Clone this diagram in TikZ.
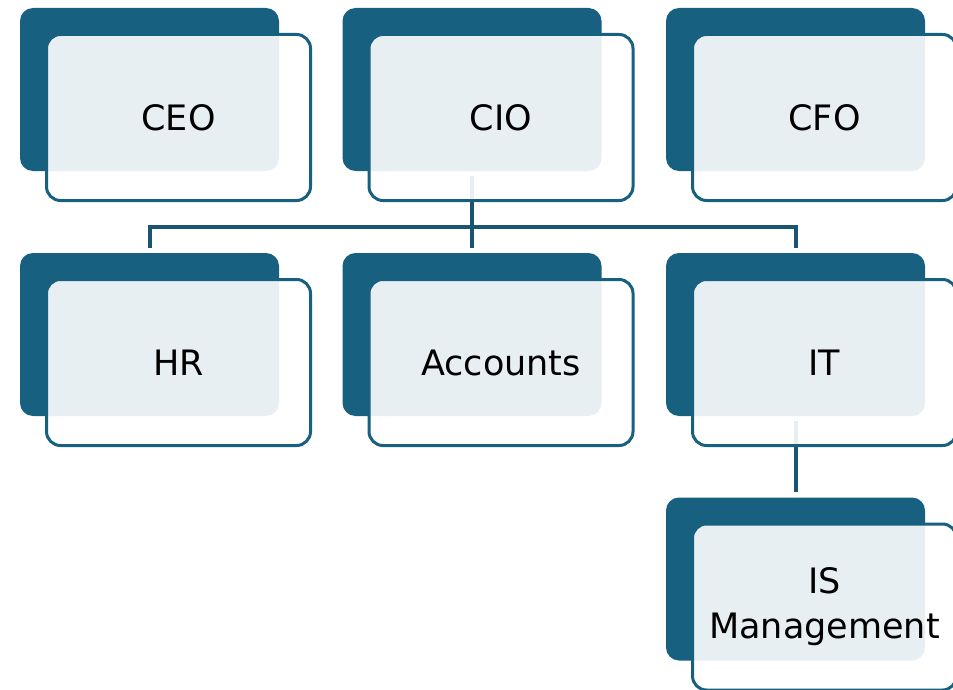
\documentclass[tikz,border=0pt]{standalone}
\usepackage{fontspec}
\setmainfont{DejaVu Sans}
\usepackage{xcolor}
\definecolor{orgblue}{HTML}{17607F}
\definecolor{linkblue}{HTML}{1A5472}

\begin{document}
\begin{tikzpicture}[x=1pt,y=-1pt,
		backbox/.style={fill=orgblue, rounded corners=13pt, minimum width=259pt, minimum height=163pt, inner sep=0pt},
		frontbox/.style={draw=orgblue, line width=3pt, fill=white, fill opacity=0.9, text opacity=1, rounded corners=14pt,
			minimum width=264pt, minimum height=166pt, inner sep=0pt, align=center, font=\fontsize{35}{45}\selectfont},
		link/.style={draw=linkblue, line width=4pt, shorten <=5pt, shorten >=5pt}]
		\useasboundingbox (0,0) rectangle (953,690);
		% dark boxes behind
		\node[backbox] (ceo-back) at (149.5,89.5) {};
		\node[backbox] (cio-back) at (472,89.5) {};
		\node[backbox] (cfo-back) at (795.5,89.5) {};
		\node[backbox] (hr-back) at (149.5,334.5) {};
		\node[backbox] (acc-back) at (472,334.5) {};
		\node[backbox] (it-back) at (795.5,334.5) {};
		\node[backbox] (is-back) at (795.5,579) {};
		% connectors
		\coordinate (bus) at (0,227);
		\draw[link] (cio-back.south) -- (acc-back.north);
		\draw[link] (hr-back.north) -- (hr-back.north |- bus) -- (it-back.north |- bus) -- (it-back.north);
		\draw[link] (it-back.south) -- (is-back.north);
		% front boxes with labels
		\node[frontbox] (ceo) at ([shift={(29,28)}]ceo-back.center) {CEO};
		\node[frontbox] (cio) at ([shift={(29,28)}]cio-back.center) {CIO};
		\node[frontbox] (cfo) at ([shift={(29,28)}]cfo-back.center) {CFO};
		\node[frontbox] (hr) at ([shift={(29,28)}]hr-back.center) {HR};
		\node[frontbox] (acc) at ([shift={(29,28)}]acc-back.center) {Accounts};
		\node[frontbox] (it) at ([shift={(29,28)}]it-back.center) {IT};
		\node[frontbox] (is) at ([shift={(29,28)}]is-back.center) {IS\\Management};
	\end{tikzpicture}
\end{document}
